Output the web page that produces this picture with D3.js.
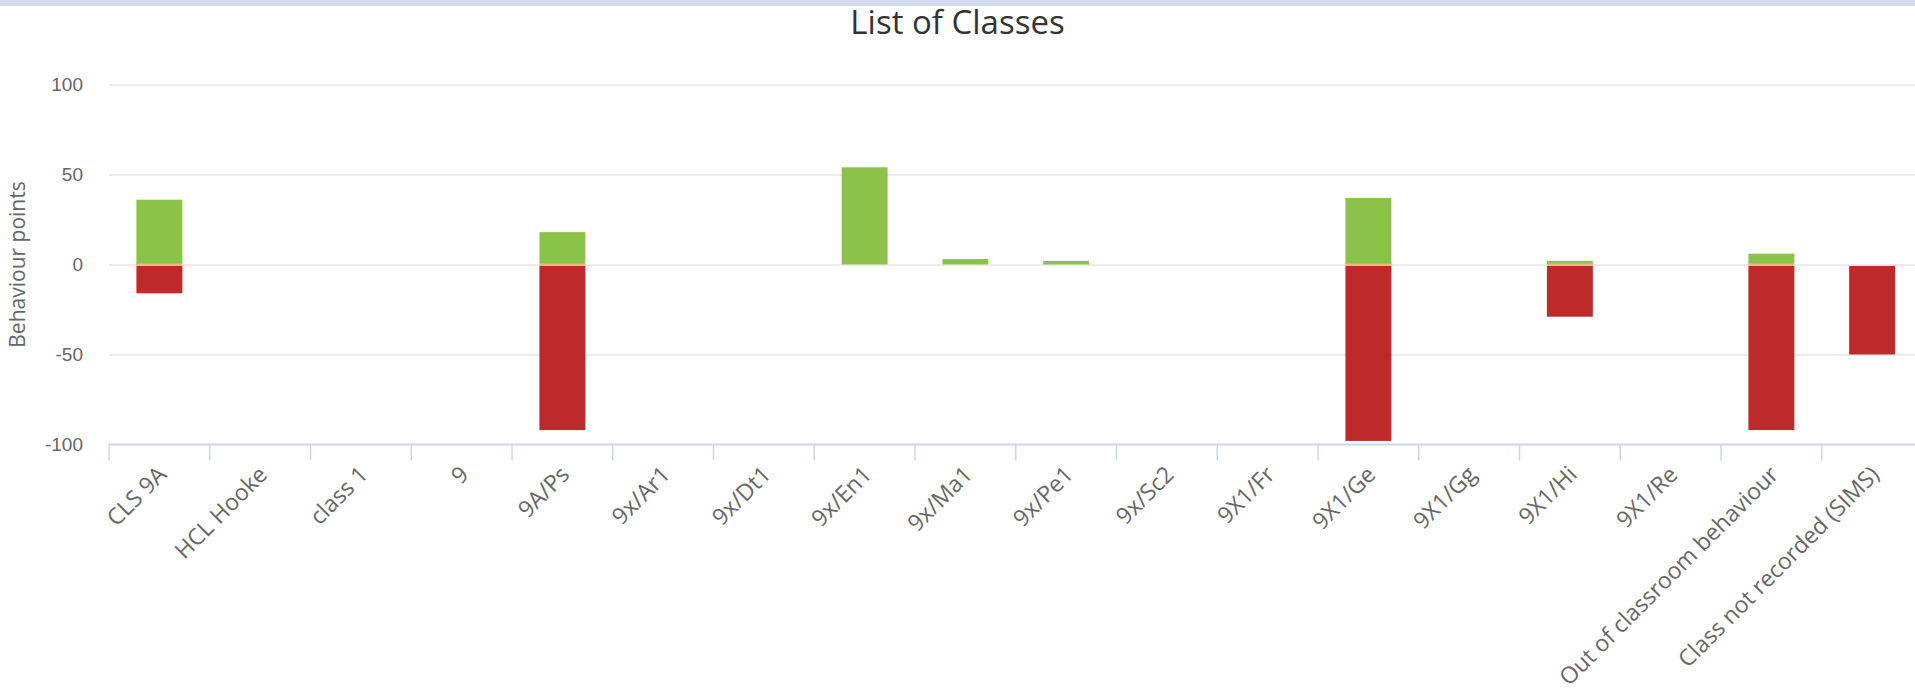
<!DOCTYPE html>
<html>
<head>
<meta charset="utf-8">
<script src="https://cdn.jsdelivr.net/npm/d3@7/dist/d3.min.js"></script>
<style>
  html, body { margin: 0; padding: 0; background: #fff; overflow: hidden; }
  svg { display: block; font-family: 'Open Sans', sans-serif; }
</style>
</head>
<body>
<div id="chart"></div>
<script>
const classes = ['CLS 9A', 'HCL Hooke', 'class 1', '9', '9A/Ps', '9x/Ar1', '9x/Dt1', '9x/En1', '9x/Ma1',
  '9x/Pe1', '9x/Sc2', '9X1/Fr', '9X1/Ge', '9X1/Gg', '9X1/Hi', '9X1/Re', 'Out of classroom behaviour',
  'Class not recorded (SIMS)']
const positivePoints = [36, 0, 0, 0, 18, 0, 0, 54, 3, 2, 0, 0, 37, 0, 2, 0, 6, 0]
const negativePoints = [-16, 0, 0, 0, -92, 0, 0, 0, 0, 0, 0, 0, -98, 0, -29, 0, -92, -50]
const yTicks = [-100, -50, 0, 50, 100]

const fullWidth = 1915
const fullHeight = 692
const margin = { top: 84.5, left: 109 }
const width = 18 * 100.75
const height = 360

const svg = d3.select('#chart')
  .append('svg')
  .attr('width', fullWidth)
  .attr('height', fullHeight)

// blue strip at the very top of the page
svg.append('rect')
  .attr('width', fullWidth)
  .attr('height', 6)
  .attr('fill', '#cfdbed')

svg.append('text')
  .attr('x', fullWidth / 2)
  .attr('y', 34)
  .attr('text-anchor', 'middle')
  .style('font-size', '33px')
  .style('fill', '#333')
  .text('List of Classes')

const g = svg.append('g')
  .attr('transform', `translate(${margin.left},${margin.top})`)

const x = d3.scaleBand()
  .domain(classes)
  .range([0, width])
  .padding(0)

const y = d3.scaleLinear()
  .domain([-100, 100])
  .range([height, 0])

// grid
g.append('g')
  .call(d3.axisLeft(y)
    .tickValues(yTicks)
    .tickFormat(d => String(d))
    .tickSize(-(fullWidth - margin.left))
    .tickPadding(26))
  .call(ax => ax.select('.domain').remove())
  .call(ax => ax.selectAll('.tick line')
    .attr('stroke-width', 1.5)
    .attr('stroke', d => (d === -100 ? 'none' : '#e6e6e6')))
  .call(ax => ax.selectAll('.tick text')
    .style('font-size', '19px')
    .style('fill', '#666'))

// bars
const bw = x.bandwidth()
const barW = bw * 0.456
const rows = classes.map((c, i) => ({ c, pos: positivePoints[i], neg: negativePoints[i] }))

g.selectAll('.pos')
  .data(rows.filter(d => d.pos > 0))
  .enter().append('rect')
  .attr('class', 'pos')
  .attr('x', d => x(d.c) + (bw - barW) / 2)
  .attr('y', d => y(d.pos))
  .attr('width', barW)
  .attr('height', d => y(0) - y(d.pos))
  .attr('fill', '#8bc34a')

g.selectAll('.neg')
  .data(rows.filter(d => d.neg < 0))
  .enter().append('rect')
  .attr('class', 'neg')
  .attr('x', d => x(d.c) + (bw - barW) / 2)
  .attr('y', y(0) + 1.5)
  .attr('width', barW)
  .attr('height', d => y(d.neg) - y(0) - 1.5)
  .attr('fill', '#be2a2c')

// thin light seam where the two stacks meet
g.selectAll('.seam')
  .data(rows.filter(d => d.pos > 0 && d.neg < 0))
  .enter().append('rect')
  .attr('class', 'seam')
  .attr('x', d => x(d.c) + (bw - barW) / 2)
  .attr('y', y(0) - 1)
  .attr('width', barW)
  .attr('height', 2.5)
  .attr('fill', '#dcc27e')

// x axis
const xAxis = g.append('g')
  .attr('transform', `translate(0,${height})`)

xAxis.append('line')
  .attr('x1', 0)
  .attr('x2', fullWidth)
  .attr('stroke', '#ccd6eb')
  .attr('stroke-width', 2)

xAxis.selectAll('.xtick')
  .data(classes)
  .enter().append('line')
  .attr('class', 'xtick')
  .attr('x1', d => x(d))
  .attr('x2', d => x(d))
  .attr('y1', 0)
  .attr('y2', 16)
  .attr('stroke', '#ccd6eb')
  .attr('stroke-width', 1.5)

xAxis.selectAll('.xlabel')
  .data(classes)
  .enter().append('text')
  .attr('class', 'xlabel')
  .attr('transform', d => `translate(${x(d) + bw / 2 + 8.5},${31.5}) rotate(-45)`)
  .attr('text-anchor', 'end')
  .style('font-size', '23px')
  .style('fill', '#666')
  .text(d => d)

// y axis title
svg.append('text')
  .attr('transform', `translate(25,${margin.top + y(0)}) rotate(-90)`)
  .attr('text-anchor', 'middle')
  .style('font-size', '21px')
  .style('fill', '#666')
  .text('Behaviour points')
</script>
</body>
</html>
